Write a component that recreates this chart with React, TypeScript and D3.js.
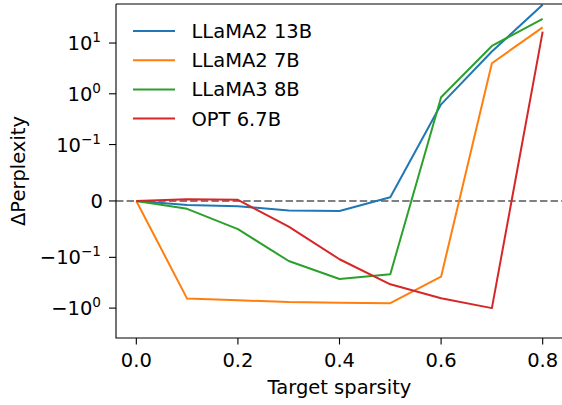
import React from 'react';
import * as d3 from 'd3';

const sparsity = [0.0, 0.1, 0.2, 0.3, 0.4, 0.5, 0.6, 0.7, 0.8];
const llama2_13b = [0, -0.007, -0.0094, -0.017, -0.0177, 0.0066, 0.62, 6.8, 57];
const llama2_7b = [0, -0.65, -0.7, -0.76, -0.78, -0.8, -0.24, 4.0, 20.4];
const llama3_8b = [0, -0.014, -0.05, -0.118, -0.267, -0.215, 0.855, 8.77, 30];
const opt_67b = [0, 0.003, 0.002, -0.0456, -0.109, -0.34, -0.64, -1.0, 16.8];

const seriesNames = ['LLaMA2 13B', 'LLaMA2 7B', 'LLaMA3 8B', 'OPT 6.7B'];
const seriesValues = [llama2_13b, llama2_7b, llama3_8b, opt_67b];
const colors = ['#1f77b4', '#ff7f0e', '#2ca02c', '#d62728'];

const xTicks = [0.0, 0.2, 0.4, 0.6, 0.8];
// y ticks on the symlog axis; exp null means a plain "0"
const yTicks: { v: number; sign: string; exp: string | null }[] = [
  { v: 10, sign: '', exp: '1' },
  { v: 1, sign: '', exp: '0' },
  { v: 0.1, sign: '', exp: '\u22121' },
  { v: 0, sign: '', exp: null },
  { v: -0.1, sign: '\u2212', exp: '\u22121' },
  { v: -1, sign: '\u2212', exp: '0' },
];

// matplotlib-style symlog, linthresh 0.1, linscale 1, base 10
const linthresh = 0.1;
const linscaleAdj = 1 / (1 - 1 / 10);
const symlog = (v: number) => {
  const a = Math.abs(v);
  if (a <= linthresh) return (v / linthresh) * linscaleAdj;
  return Math.sign(v) * (linscaleAdj + Math.log10(a / linthresh));
};

const W = 562;
const H = 405;
const left = 116;
const right = 563;
const top = 4;
const bottom = 338;
const font = 'DejaVu Sans, sans-serif';
const fs = 19.5;

export default function App() {
  const x = d3.scaleLinear().domain([-0.04, 0.84]).range([left, right]);
  const yT = d3.scaleLinear().domain([-2.70, 3.88]).range([bottom, top]);
  const y = (v: number) => yT(symlog(v));

  const line = d3
    .line<number>()
    .x((_, i) => x(sparsity[i]))
    .y((d) => y(d));

  return (
    <div style={{ position: 'absolute', left: 0, top: 0 }}>
      <svg width={W} height={H} style={{ display: 'block', background: '#fff' }} fontFamily={font}>
        <defs>
          <clipPath id="plot">
            <rect x={left} y={top} width={right - left} height={bottom - top} />
          </clipPath>
        </defs>

        {/* zero reference */}
        <line
          x1={left}
          x2={right}
          y1={y(0)}
          y2={y(0)}
          stroke="#808080"
          strokeWidth={2}
          strokeDasharray="7.4,3.2"
        />

        <g clipPath="url(#plot)">
          {seriesValues.map((vals, i) => (
            <path key={i} d={line(vals) || ''} fill="none" stroke={colors[i]} strokeWidth={2} strokeLinejoin="round" />
          ))}
        </g>

        {/* spines */}
        <path
          d={`M${left},${top}H${right}M${left},${top}V${bottom}H${right}`}
          fill="none"
          stroke="#000"
          strokeWidth={1.1}
        />

        {/* x axis */}
        {xTicks.map((t) => (
          <g key={t} transform={`translate(${x(t)},${bottom})`}>
            <line y2={6.5} stroke="#000" strokeWidth={1.1} />
            <text y={29} textAnchor="middle" fontSize={fs} fill="#000">
              {t.toFixed(1)}
            </text>
          </g>
        ))}
        <text x={(left + right) / 2} y={394} textAnchor="middle" fontSize={fs} fill="#000">
          Target sparsity
        </text>

        {/* y axis */}
        {yTicks.map((t) => (
          <g key={t.v} transform={`translate(${left},${y(t.v)})`}>
            <line x2={-7} stroke="#000" strokeWidth={1.1} />
            {t.exp === null ? (
              <text x={-13} dy="0.36em" textAnchor="end" fontSize={fs} fill="#000">
                0
              </text>
            ) : (
              <text x={-15} dy="0.36em" textAnchor="end" fontSize={fs} fill="#000">
                {t.sign}10
                <tspan fontSize={13.6} dy={-8}>
                  {t.exp}
                </tspan>
              </text>
            )}
          </g>
        ))}
        <text
          transform={`translate(25,${(top + bottom) / 2}) rotate(-90)`}
          textAnchor="middle"
          fontSize={fs}
          fill="#000"
        >
          ΔPerplexity
        </text>

        {/* legend */}
        {seriesNames.map((name, i) => (
          <g key={name} transform={`translate(133,${31 + i * 29.2})`}>
            <line x1={0} x2={42} stroke={colors[i]} strokeWidth={2} />
            <text x={58.5} dy="0.36em" fontSize={fs} fill="#000">
              {name}
            </text>
          </g>
        ))}
      </svg>
    </div>
  );
}
